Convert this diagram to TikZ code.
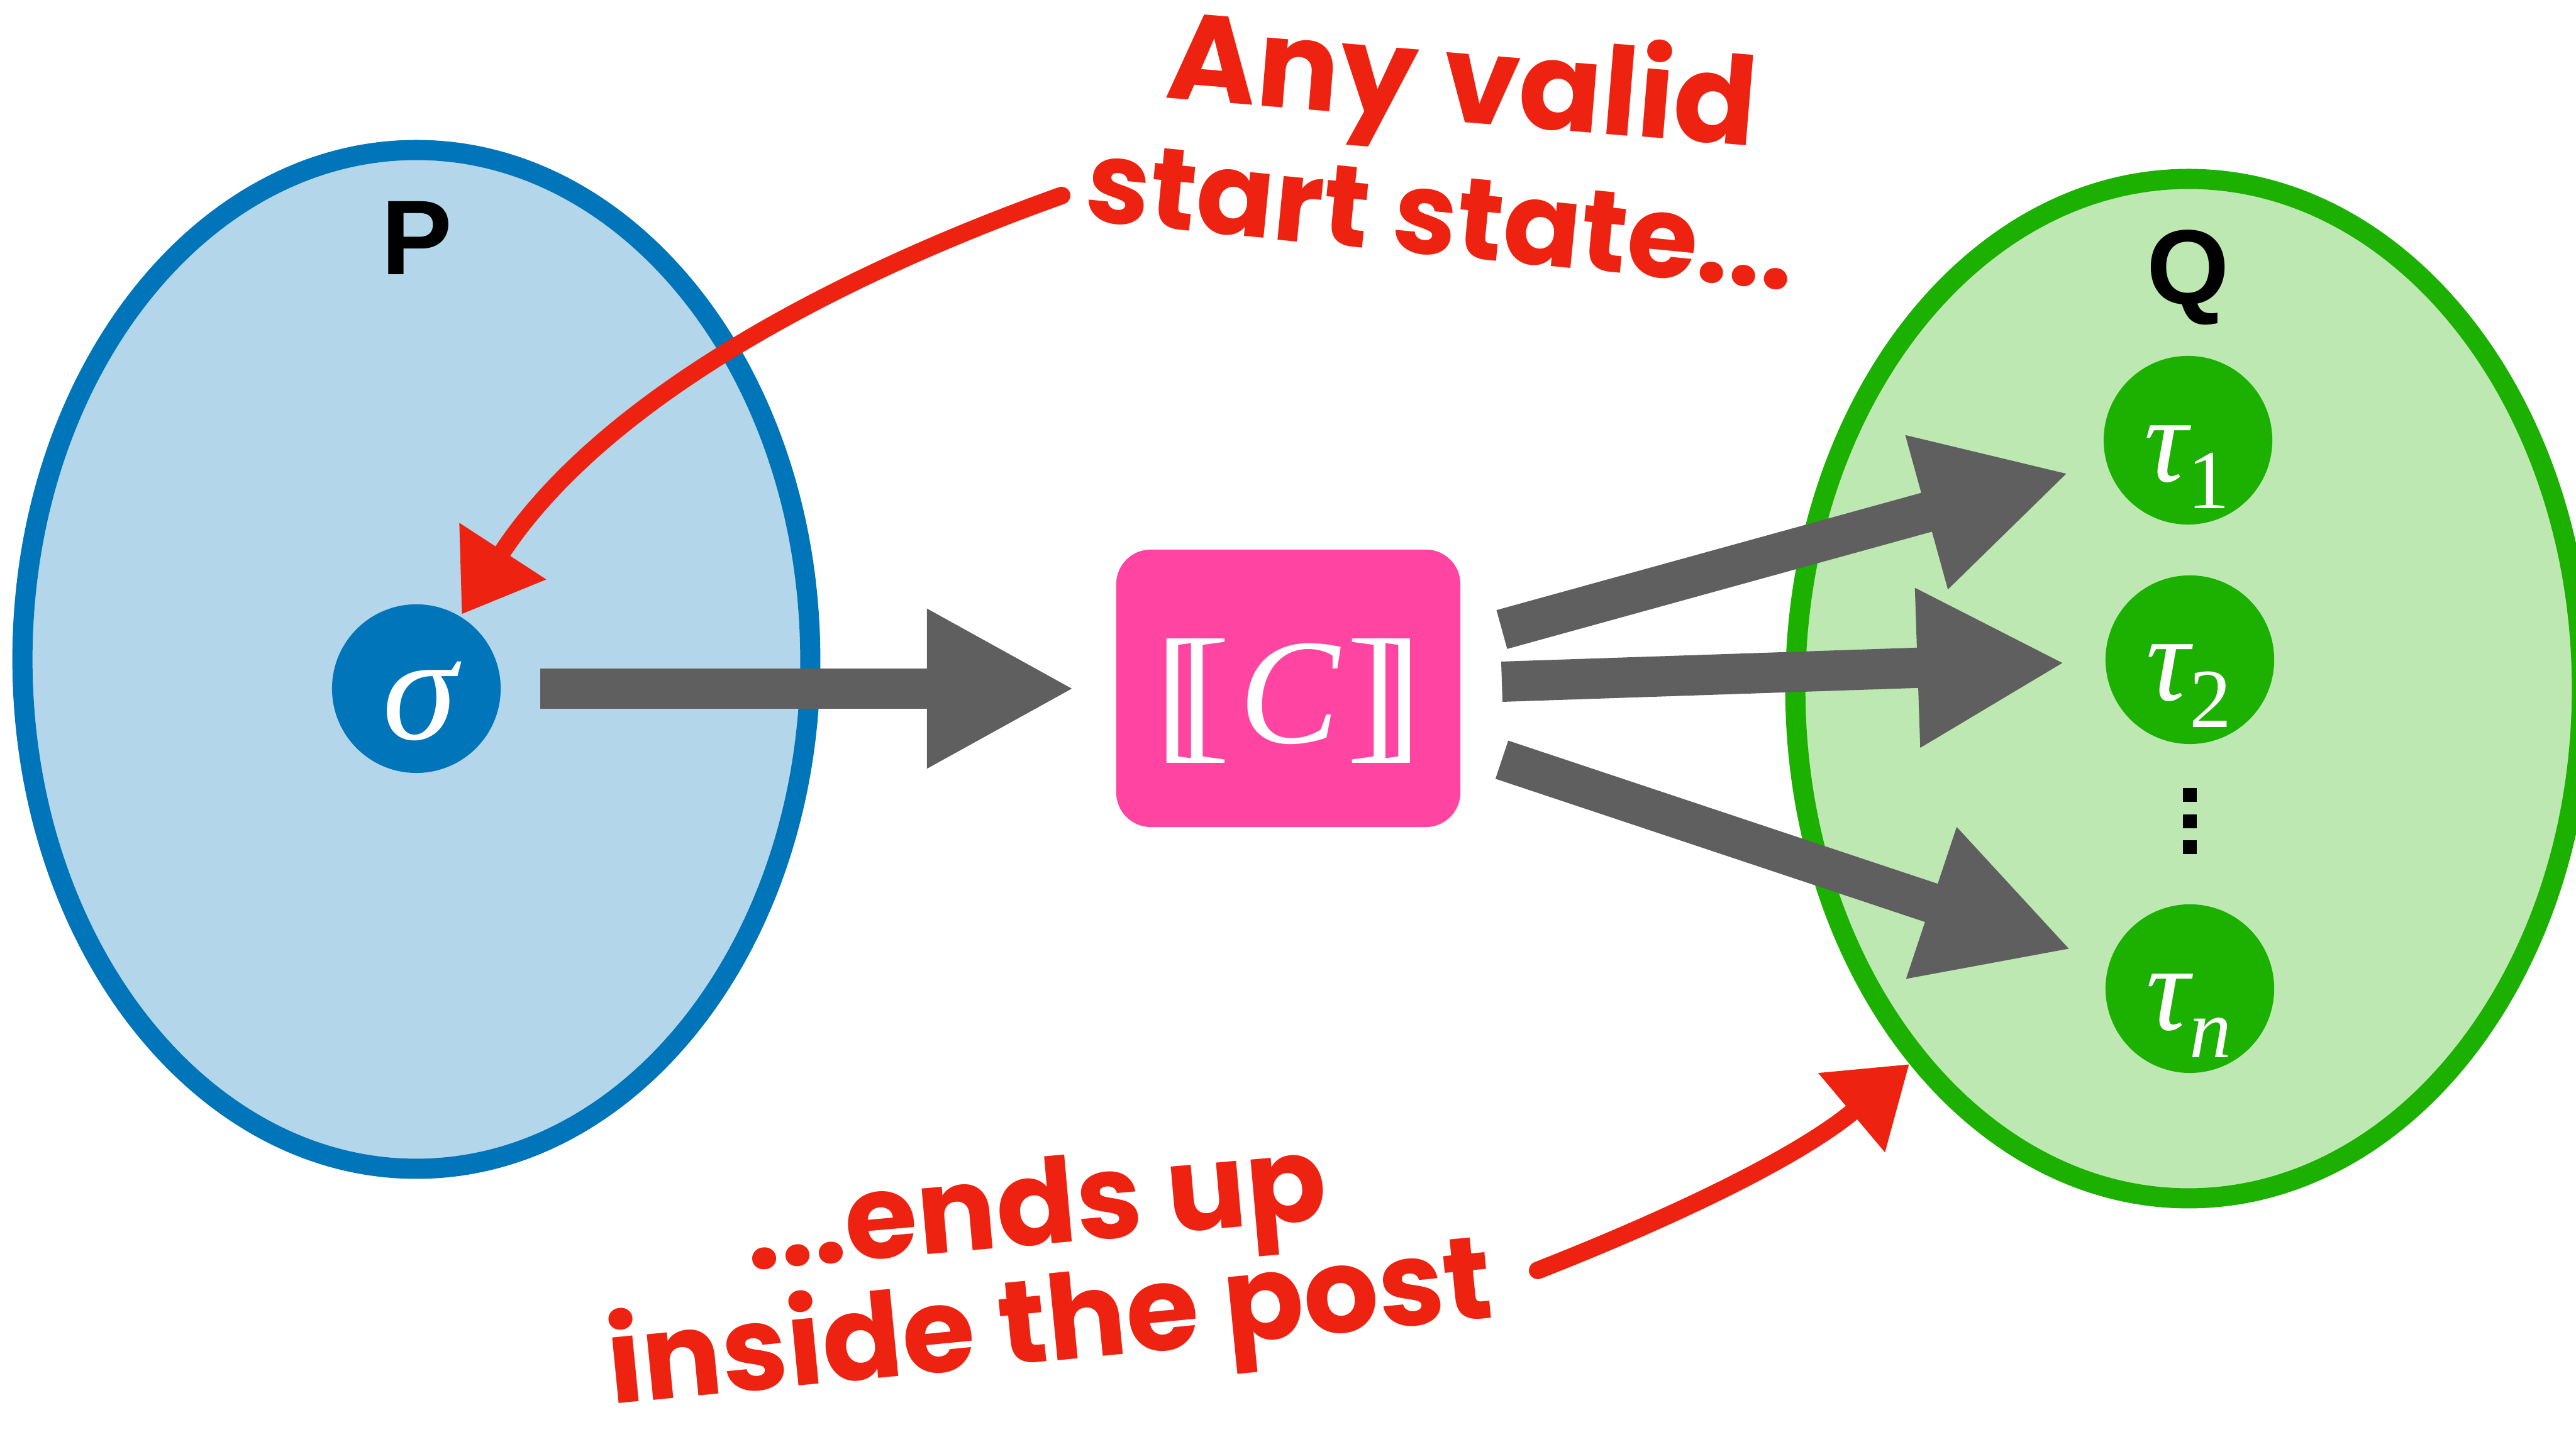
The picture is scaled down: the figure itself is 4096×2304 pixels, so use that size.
\documentclass[tikz,border=0pt]{standalone}
\usepackage{fontspec}
\setmainfont{Liberation Serif}
\newfontfamily\labelfont{Liberation Sans}
\newfontfamily\handfont{Poppins}
\usetikzlibrary{arrows.meta,shapes.geometric}

\definecolor{preblue}{RGB}{0,117,185}
\definecolor{prefill}{RGB}{179,214,234}
\definecolor{postgreen}{RGB}{28,176,0}
\definecolor{postfill}{RGB}{189,232,178}
\definecolor{cmdpink}{RGB}{255,68,161}
\definecolor{flowgray}{RGB}{95,95,95}
\definecolor{chalkred}{RGB}{238,34,17}

% state label: tau with an (upright or italic) subscript
\newcommand{\tausub}[1]{{\fontsize{55}{55}\selectfont\itshape τ}\raisebox{-0.43cm}{\fontsize{38}{38}\selectfont #1}}

\begin{document}
\begin{tikzpicture}[x=0.01cm,y=0.01cm,
  setshape/.style={ellipse, draw, line width=0.32cm, inner sep=0pt},
  statedot/.style={circle, inner sep=0pt, minimum size=2.68cm},
  setlabel/.style={font=\labelfont\bfseries\fontsize{48}{48}\selectfont, anchor=base, inner sep=0pt},
  statelabel/.style={text=white, anchor=base, inner sep=0pt},
  flow/.style={draw=flowgray, line width=0.64cm,
    -{Triangle[width=2.36cm,length=2.35cm]}},
  chalk/.style={draw=chalkred, line width=0.28cm, line cap=round,
    -{Triangle[width=1.57cm,length=1.2cm]}},
  hand/.style={text=chalkred, anchor=base, inner sep=0pt},
  vdot/.style={fill=black, inner sep=0pt, minimum size=0.22cm}
]
\useasboundingbox (0,0) rectangle (4096,2304);

% pre- and postcondition sets
\node[setshape, draw=preblue, fill=prefill, minimum width=12.52cm, minimum height=16.19cm] (P) at (662,1255.5) {};
\node[setshape, draw=postgreen, fill=postfill, minimum width=12.50cm, minimum height=16.20cm] (Q) at (3480,1209) {};
\node[setlabel] (Plab) at (663,1867) {P};
\node[setlabel] (Qlab) at (3479,1820) {Q};

% start state
\node[statedot, fill=preblue] (sigma) at (662,1209) {};
\node[statelabel, font=\fontsize{68}{68}\selectfont\itshape] (sigmalab) at (667,1128) {σ};

% final states
\node[statedot, fill=postgreen] (tau1) at (3479,1604) {};
\node[statedot, fill=postgreen] (tau2) at (3482,1255) {};
\node[statedot, fill=postgreen] (taun) at (3482,732) {};
\node[statelabel] (tau1lab) at (3477,1538) {\tausub{1}};
\node[statelabel] (tau2lab) at (3480,1190) {\tausub{2}};
\node[statelabel] (taunlab) at (3480,666) {\tausub{\itshape n}};
\node[vdot] (d1) at (3482,1040) {};
\node[vdot] (d2) at (3482,998) {};
\node[vdot] (d3) at (3482,957) {};

% the command
\node[fill=cmdpink, rounded corners=0.55cm, minimum width=5.47cm, minimum height=4.41cm, inner sep=0pt] (C) at (2048.5,1209.5) {};
\node[statelabel, font=\fontsize{68}{68}\selectfont] (Clab) at (2049,1122) {[\kern-0.17em[\kern0.06em\textit{C}\kern0.04em]\kern-0.17em]};

% flow arrows
\coordinate (s0) at (859,1209);
\coordinate (s1) at (1709,1209);
\coordinate (o1a) at (2388,1303);
\coordinate (o1b) at (3290,1552);
\coordinate (o2a) at (2388,1220);
\coordinate (o2b) at (3284,1250);
\coordinate (ona) at (2388,1096);
\coordinate (onb) at (3294,794);
\draw[flow] (s0) -- (s1);
\draw[flow] (o1a) -- (o1b);
\draw[flow] (o2a) -- (o2b);
\draw[flow] (ona) -- (onb);

% handwritten notes
\node[hand, rotate=-4.7] (note1) at (2320,2110) {\resizebox{9.4cm}{!}{\handfont\bfseries Any valid}};
\node[hand, rotate=-5.6] (note2) at (2285,1898) {\resizebox{11.3cm}{!}{\handfont\bfseries start state...}};
\node[hand, rotate=5] (note3) at (1652,325) {\resizebox{9.25cm}{!}{\handfont\bfseries ...ends up}};
\node[hand, rotate=5.6] (note4) at (1675,140) {\resizebox{14.1cm}{!}{\handfont\bfseries inside the post}};

\coordinate (c1a) at (1688,1993);
\coordinate (c1b) at (734,1327);
\coordinate (c2a) at (2445,284);
\coordinate (c2b) at (3036,612);
\draw[chalk] (c1a) .. controls (1315,1860) and (952,1662) .. (c1b);
\draw[chalk] (c2a) .. controls (2659,368) and (2860,464) .. (c2b);
\end{tikzpicture}
\end{document}
